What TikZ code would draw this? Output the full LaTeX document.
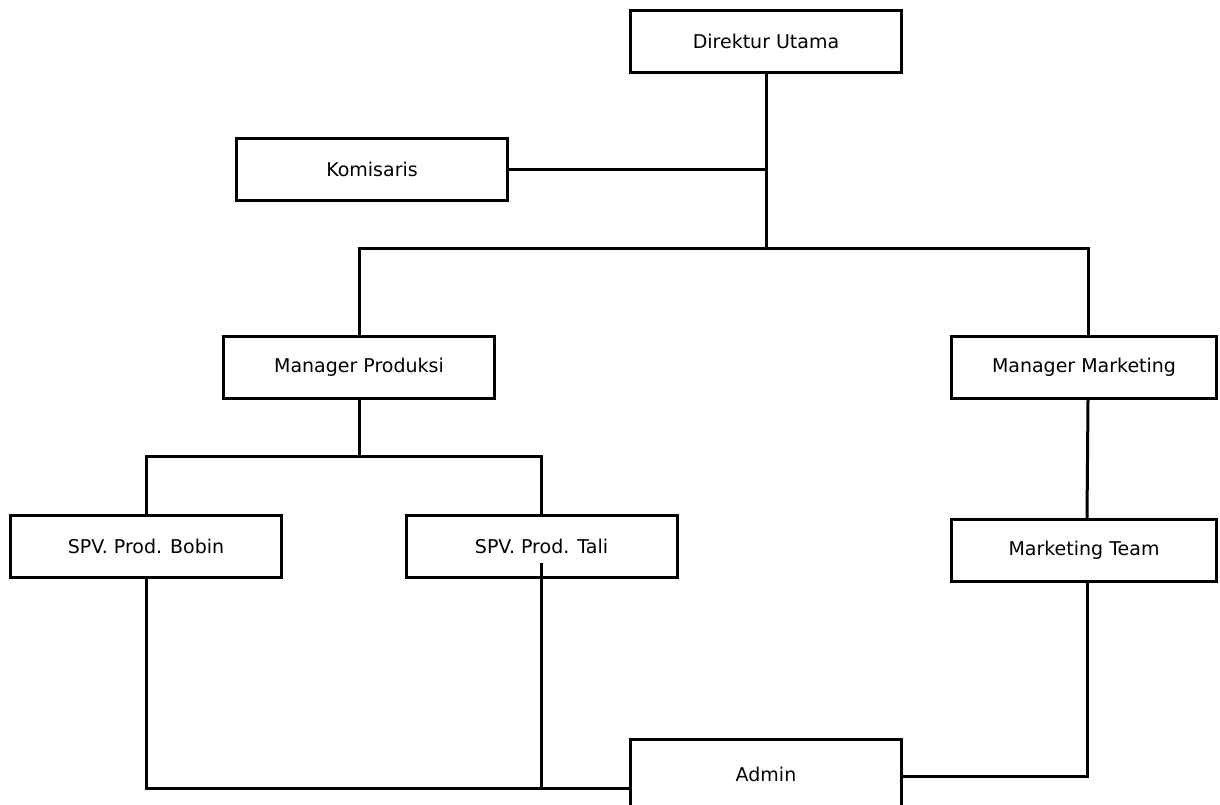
\documentclass[tikz,border=0pt]{standalone}
\usepackage{fontspec}
\setmainfont{DejaVu Sans}

\begin{document}
\begin{tikzpicture}[line cap=rect,line join=miter,x=1pt,y=-1pt,
    jabatan/.style={draw,line width=3pt,minimum width=271pt,minimum height=62pt,
        inner sep=0pt,font=\fontsize{19}{22}\selectfont},
    garis/.style={line width=3pt}]
        \useasboundingbox (0,0) rectangle (1220,804);
        % kotak jabatan
        \node[jabatan] (dir) at (766,41) {Direktur Utama};
        \node[jabatan] (kom) at (372,169) {Komisaris};
        \node[jabatan] (mp) at (359,367) {Manager Produksi};
        \node[jabatan,minimum width=265pt] (mm) at (1084,367.5) {Manager Marketing};
        \node[jabatan] (bob) at (146,546.5) {SPV. Prod. Bobin};
        \node[jabatan] (tali) at (541.5,546.5) {SPV. Prod. Tali};
        \node[jabatan,minimum width=265pt] (mt) at (1084,550) {Marketing Team};
        \node[jabatan,minimum height=69pt] (adm) at (766,774) {Admin};
        % titik cabang
        \coordinate (pusat) at (766,248);
        \coordinate (kanan) at (1088,248);
        \coordinate (prod) at (359,456);
        \coordinate (admkiri) at (629,788);
        \coordinate (admkanan) at (903,776);
        % garis
        \draw[garis] (dir.south) -- (pusat);
        \draw[garis] (kom.east) -- (kom.east -| pusat);
        \draw[garis] (mp.north) |- (kanan) -- (kanan |- mm.north);
        \draw[garis] (mp.south) -- (prod);
        \draw[garis] (bob.north) |- (tali.north |- prod) -- (tali.north);
        \draw[garis] (kanan |- mm.south) -- ([xshift=-1pt]kanan |- mt.north);
        \draw[garis] (bob.south) |- (admkiri);
        \draw[garis] ([yshift=15pt]tali.south) -- (tali.south |- admkiri);
        \draw[garis] ([xshift=-1pt]kanan |- mt.south) |- (admkanan);
    \end{tikzpicture}
\end{document}
